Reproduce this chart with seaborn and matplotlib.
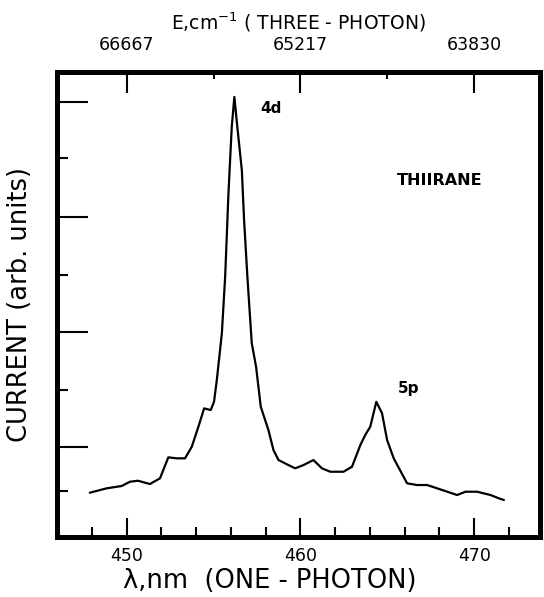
import matplotlib
matplotlib.use('Agg')
import matplotlib.pyplot as plt
import seaborn as sns
import pandas as pd

# Spectrum (wavelength in nm, current in arb. units)
wavelength = [447.88, 448.85, 449.71, 450.19, 450.65, 451.34, 451.92, 452.40, 452.88, 453.36,
              453.75, 454.13, 454.46, 454.84, 455.03, 455.19, 455.48, 455.67, 455.86, 456.05,
              456.20, 456.37, 456.63, 456.76, 456.95, 457.20, 457.45, 457.72, 458.16, 458.45,
              458.74, 459.31, 459.70, 460.18, 460.75, 461.24, 461.72, 462.48, 462.97, 463.45,
              463.73, 464.02, 464.37, 464.70, 464.99, 465.37, 466.14, 466.71, 467.29, 467.87,
              469.02, 469.50, 470.17, 470.94, 471.42, 471.71]
current = [0.443, 0.487, 0.510, 0.553, 0.563, 0.530, 0.587, 0.797, 0.787, 0.787,
           0.903, 1.103, 1.287, 1.270, 1.353, 1.570, 2.037, 2.603, 3.437, 4.103,
           4.403, 4.103, 3.670, 3.170, 2.603, 1.940, 1.703, 1.303, 1.070, 0.870,
           0.770, 0.720, 0.687, 0.720, 0.770, 0.687, 0.653, 0.653, 0.703, 0.920,
           1.020, 1.103, 1.353, 1.237, 0.970, 0.787, 0.537, 0.520, 0.520, 0.487,
           0.420, 0.453, 0.453, 0.420, 0.387, 0.370]

bottom_major = [450, 460, 470]
bottom_minor = [448, 452, 454, 456, 458, 462, 464, 466, 468, 472]
top_major = [450, 460, 470]
top_minor = [455, 465]
top_labels = ['66667', '65217', '63830']
y_long = [0.90, 2.05, 3.20, 4.35]
y_short = [0.46, 1.47, 2.62, 3.79]

peak_labels = ['4d', '5p']
peak_x = [458.3, 466.2]
peak_y = [4.29, 1.49]

df = pd.DataFrame({'wavelength': wavelength, 'current': current})

sns.set_style('ticks')
plt.rcParams['font.family'] = ['DejaVu Sans']
plt.rcParams['text.color'] = 'black'
plt.rcParams['axes.labelcolor'] = 'black'
plt.rcParams['axes.edgecolor'] = 'black'
plt.rcParams['xtick.color'] = 'black'
plt.rcParams['ytick.color'] = 'black'

fig = plt.figure(figsize=(5.44, 5.97), dpi=100)
ax = fig.add_axes([0.105, 0.1005, 0.888, 0.7785])

sns.lineplot(data=df, x='wavelength', y='current', color='black', linewidth=1.6, ax=ax)

ax.set_xlim(446.0, 473.8)
ax.set_ylim(0, 4.65)

for side in ['left', 'right', 'top', 'bottom']:
    ax.spines[side].set_visible(True)
    ax.spines[side].set_linewidth(3.5)
    ax.spines[side].set_color('black')

ax.set_xticks(bottom_major)
ax.set_xticks(bottom_minor, minor=True)
ax.set_xticklabels([str(v) for v in bottom_major], fontsize=12.5)
ax.tick_params(axis='x', which='major', direction='in', length=14, width=1.5, pad=7)
ax.tick_params(axis='x', which='minor', direction='in', length=7, width=1.5)

ax.set_yticks(y_long)
ax.set_yticks(y_short, minor=True)
ax.set_yticklabels([])
ax.tick_params(axis='y', which='major', direction='in', length=22, width=1.5, left=True, right=False)
ax.tick_params(axis='y', which='minor', direction='in', length=8, width=1.5, left=True, right=False)

ax.set_xlabel('λ,nm  (ONE - PHOTON)', fontsize=18.5)
ax.xaxis.set_label_coords(0.44, -0.066)
ax.set_ylabel('CURRENT (arb. units)', fontsize=18.5)
ax.yaxis.set_label_coords(-0.05, 0.5)

# top axis: three-photon energy
top = ax.twiny()
top.set_xlim(ax.get_xlim())
top.set_xticks(top_major)
top.set_xticks(top_minor, minor=True)
top.set_xticklabels(top_labels, fontsize=12.5)
top.tick_params(axis='x', which='major', direction='in', length=15, width=1.5, pad=13)
top.tick_params(axis='x', which='minor', direction='in', length=5, width=1.5)
for side in ['left', 'right', 'top', 'bottom']:
    top.spines[side].set_linewidth(3.5)
    top.spines[side].set_color('black')
top.set_xlabel('E,cm$^{-1}$ ( THREE - PHOTON)', fontsize=13.5, labelpad=5)

for lab, px, py in zip(peak_labels, peak_x, peak_y):
    ax.text(px, py, lab, fontsize=11, fontweight='bold', ha='center', va='center')
ax.text(468.0, 3.57, 'THIIRANE', fontsize=11.5, fontweight='bold', ha='center', va='center')

fig.savefig('out.png', dpi=100)
